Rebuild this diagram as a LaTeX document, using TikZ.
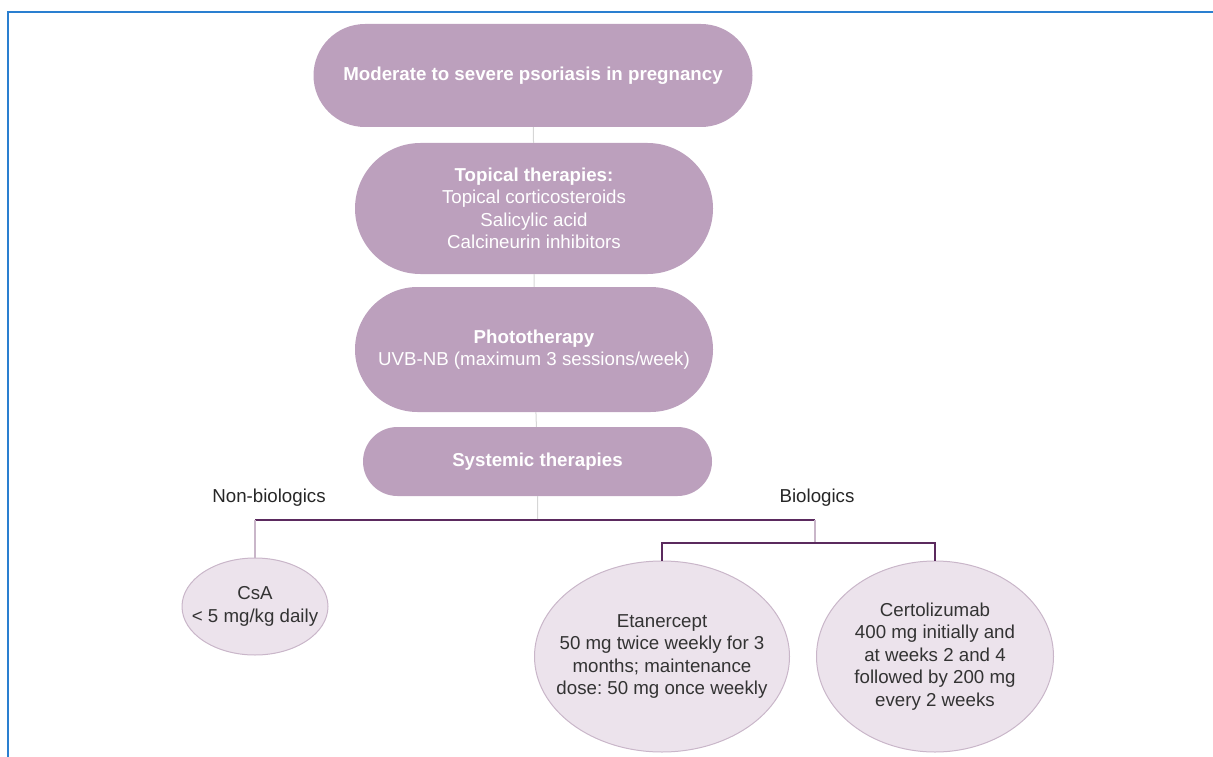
\documentclass[tikz,border=0pt]{standalone}
\usepackage{fontspec}
\setmainfont{Liberation Sans}
\frenchspacing
\usetikzlibrary{shapes.misc,shapes.geometric}
\definecolor{mauve}{HTML}{BCA0BD}
\definecolor{lilac}{HTML}{ECE3EC}
\definecolor{lilacline}{HTML}{C9B6C9}
\definecolor{plum}{HTML}{5B2A5E}
\definecolor{frameblue}{HTML}{2A7FD0}
\definecolor{greyline}{HTML}{D6D6D6}
\begin{document}
\begin{tikzpicture}[x=1pt,y=-1pt,
  stage/.style={rounded rectangle,fill=mauve,text=white,align=center,inner sep=0pt,
    font=\fontsize{18.7}{22.4}\selectfont},
  drug/.style={ellipse,fill=lilac,draw=lilacline,line width=1pt,text=black!80,align=center,
    inner xsep=-40pt,inner ysep=0pt,font=\fontsize{18.7}{22.4}\selectfont},
  branch/.style={text=black!85,font=\fontsize{18.7}{22.4}\selectfont},
  thin/.style={draw=greyline,line width=1pt},
  thick/.style={draw=plum,line width=1.6pt}]
\useasboundingbox (0,0) rectangle (1213,757);
\draw[frameblue,line width=1.5pt] (1213,12) -- (8,12) -- (8,757);

\node (severe) at (533,75.5)[stage,minimum width=439,minimum height=103]
  {\textbf{Moderate to severe psoriasis in pregnancy}};
\node (topical) at (534,208.5)[stage,minimum width=358,minimum height=131]
  {\textbf{Topical therapies:}\\Topical corticosteroids\\Salicylic acid\\Calcineurin inhibitors};
\node (photo) at (534,349.5)[stage,minimum width=358,minimum height=125]
  {\textbf{Phototherapy}\\UVB-NB (maximum 3 sessions/week)};
\node (systemic) at (537.5,461.5)[stage,minimum width=349,minimum height=69]
  {\textbf{Systemic therapies}};

\node (nonbio) at (269,498)[branch]{Non-biologics};
\node (bio) at (817,498)[branch]{Biologics};

\node (csa) at (255,606.5)[drug,minimum width=146,minimum height=97]
  {CsA\\< 5 mg/kg daily};
\node (eta) at (662,656.5)[drug,minimum width=255,minimum height=191]
  {Etanercept\\50 mg twice weekly for 3\\months; maintenance\\dose: 50 mg once weekly};
\node (cert) at (935,656.5)[drug,minimum width=237,minimum height=191]
  {Certolizumab\\400 mg initially and\\at weeks 2 and 4\\followed by 200 mg\\every 2 weeks};

\coordinate (split) at (537.5,520);
\coordinate (nbend) at (255,520);
\coordinate (bbend) at (815,520);
\coordinate (bsplit) at (815,543);

\draw[thin] (severe) -- (topical);
\draw[thin] (topical) -- (photo);
\draw[thin] (photo) -- (systemic);
\draw[thin] (systemic) -- (split);
\draw[thick] (nbend) -- (bbend);
\draw[draw=lilacline,line width=1.5pt] (nbend) -- (csa);
\draw[draw=lilacline,line width=1.5pt] (bbend) -- (bsplit);
\draw[thick] (eta.north) |- (bsplit) -| (cert.north);
\end{tikzpicture}
\end{document}
